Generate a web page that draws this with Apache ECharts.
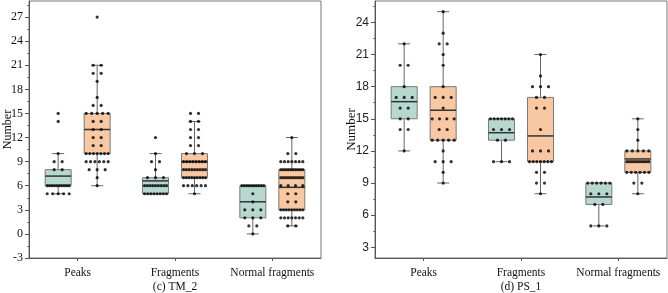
<!DOCTYPE html>
<html>
<head>
<meta charset="utf-8">
<script src="https://cdn.jsdelivr.net/npm/echarts@6/dist/echarts.min.js"></script>
<style>
  html, body { margin: 0; padding: 0; background: #fff; }
  #chart { width: 668px; height: 293px; }
</style>
</head>
<body>
<div id="chart"></div>
<script>
const categories = ['Peaks', 'Fragments', 'Normal fragments'];
const panelTitles = ['(c) TM_2', '(d) PS_1'];

// y tick labels of each panel and the axis extent
const tmTicks = [-3, 0, 3, 6, 9, 12, 15, 18, 21, 24, 27];
const tmRange = [-3, 29];
const psTicks = [3, 6, 9, 12, 15, 18, 21, 24];
const psRange = [2, 26];

// box stats per category: [min, q1, median, q3, max]
const tmBoxTeal = [[5, 6, 7.2, 8, 10], [5, 5, 6.6, 7, 10], [0, 2, 4, 6, 6]];
const tmBoxOrange = [[6, 10, 13, 15, 21], [5, 7, 9, 10, 14], [1, 3, 5.8, 8, 12]];
const psBoxTeal = [[12, 15, 16.6, 18, 22], [11, 13, 13.7, 15, 15], [5, 7, 7.7, 9, 9]];
const psBoxOrange = [[9, 13, 15.8, 18, 25], [8, 11, 13.4, 17, 21], [8, 10, 11.25, 12, 15]];

// raw points per category as [value, count]
const tmPointsTeal = [
  [[15, 1], [14, 1], [10, 1], [9, 2], [8, 2], [6, 10], [5, 5]],
  [[12, 1], [10, 1], [9, 2], [8, 1], [7, 3], [6, 9], [5, 8]],
  [[6, 10], [5, 1], [4, 1], [3, 3], [2, 3], [1, 2], [0, 1]]
];
const tmPointsOrange = [
  [[27, 1], [21, 2], [20, 2], [19, 1], [17, 1], [16, 2], [15, 5], [14, 2], [13, 2], [12, 2], [11, 2], [10, 7], [9, 6], [8, 3], [7, 1], [6, 1]],
  [[15, 2], [14, 2], [13, 2], [12, 2], [11, 2], [10, 3], [9, 8], [8, 9], [7, 9], [6, 6], [5, 1]],
  [[12, 1], [10, 2], [9, 7], [8, 10], [7, 10], [6, 4], [5, 2], [4, 2], [3, 9], [2, 7], [1, 2]]
];
const psPointsTeal = [
  [[22, 1], [20, 2], [18, 1], [17, 3], [16, 2], [15, 2], [14, 2], [12, 1]],
  [[15, 7], [14, 3], [13, 2], [11, 3]],
  [[9, 6], [8, 3], [7, 2], [5, 3]]
];
const psPointsOrange = [
  [[25, 1], [23, 1], [22, 2], [21, 1], [20, 1], [18, 1], [17, 3], [16, 1], [15, 4], [14, 2], [13, 5], [12, 1], [11, 3], [10, 1], [9, 1]],
  [[21, 1], [19, 1], [18, 3], [17, 2], [16, 2], [14, 1], [12, 3], [11, 7], [10, 2], [9, 2], [8, 1]],
  [[15, 1], [14, 1], [13, 1], [12, 5], [11, 10], [10, 6], [9, 2], [8, 1]]
];

const TEAL = '#b6d8cf';
const ORANGE = '#f7c8a2';
const GRID_W = 292;
const UNIT = 3 / GRID_W;      // value-axis units per pixel on the hidden x axis
const OFFSET = 19.5 * UNIT;   // box centre offset from category centre
const HALF = 13;              // half box width, px
const CAP = 6;                // half whisker cap width, px

function boxData(stats, side) {
  return stats.map((s, i) => [i + 0.5 + side * OFFSET].concat(s));
}

function pointData(points, side) {
  const out = [];
  points.forEach((rows, i) => {
    const cx = i + 0.5 + side * OFFSET;
    rows.forEach(([v, n]) => {
      const span = Math.min(22, (n - 1) * 8);
      for (let k = 0; k < n; k++) {
        const dx = n === 1 ? 0 : -span / 2 + span * k / (n - 1);
        out.push([cx + dx * UNIT, v]);
      }
    });
  });
  return out;
}

function boxRenderer(fill) {
  return function (params, api) {
    const x = api.value(0);
    const lo = api.coord([x, api.value(1)]);
    const q1 = api.coord([x, api.value(2)]);
    const md = api.coord([x, api.value(3)]);
    const q3 = api.coord([x, api.value(4)]);
    const hi = api.coord([x, api.value(5)]);
    const cx = lo[0];
    const wStyle = { stroke: '#666', lineWidth: 1 };
    const children = [
      { type: 'line', shape: { x1: cx, y1: q1[1], x2: cx, y2: lo[1] }, style: wStyle },
      { type: 'line', shape: { x1: cx - CAP, y1: lo[1], x2: cx + CAP, y2: lo[1] }, style: wStyle },
      { type: 'line', shape: { x1: cx, y1: q3[1], x2: cx, y2: hi[1] }, style: wStyle },
      { type: 'line', shape: { x1: cx - CAP, y1: hi[1], x2: cx + CAP, y2: hi[1] }, style: wStyle },
      { type: 'rect', shape: { x: cx - HALF, y: q3[1], width: HALF * 2, height: q1[1] - q3[1] },
        style: { fill: fill, stroke: '#7a7a7a', lineWidth: 1 } },
      { type: 'line', shape: { x1: cx - HALF, y1: md[1], x2: cx + HALF, y2: md[1] },
        style: { stroke: '#333', lineWidth: 1.5 } }
    ];
    return { type: 'group', children: children };
  };
}

const serif = 'Liberation Serif';
const sans = 'Liberation Sans';

function catAxis(gridIndex, title) {
  return {
    type: 'category', gridIndex: gridIndex, data: categories, boundaryGap: true,
    axisLine: { show: true, onZero: false, lineStyle: { color: '#555', width: 1 } },
    axisTick: { show: true, alignWithLabel: true, length: 3, lineStyle: { color: '#555' } },
    axisLabel: { fontFamily: serif, fontSize: 11.5, color: '#111', margin: 9, interval: 0, hideOverlap: false },
    splitLine: { show: false },
    name: title, nameLocation: 'middle', nameGap: 23, nameMoveOverlap: false,
    nameTextStyle: { fontFamily: serif, fontSize: 11.5, color: '#111' }
  };
}

function hiddenAxis(gridIndex) {
  return { type: 'value', gridIndex: gridIndex, min: 0, max: 3, show: false, axisLine: { onZero: false } };
}

const chart = echarts.init(document.getElementById('chart'), null, { renderer: 'canvas' });

const gridBase = { top: 1, width: GRID_W, height: 257, show: true, borderColor: '#777', borderWidth: 1,
  backgroundColor: '#fff', containLabel: false, outerBoundsMode: 'none' };

const option = {
  animation: false,
  backgroundColor: '#fff',
  grid: [
    Object.assign({ left: 29 }, gridBase),
    Object.assign({ left: 375 }, gridBase)
  ],
  xAxis: [catAxis(0, panelTitles[0]), hiddenAxis(0), catAxis(1, panelTitles[1]), hiddenAxis(1)],
  yAxis: [
    {
      type: 'value', gridIndex: 0, min: tmRange[0], max: tmRange[1], interval: tmTicks[1] - tmTicks[0],
      axisLine: { show: true, onZero: false, lineStyle: { color: '#555' } },
      axisTick: { show: true, length: 4, customValues: tmTicks, lineStyle: { color: '#555' } },
      minorTick: { show: true, splitNumber: 2, length: 2, lineStyle: { color: '#777' } },
      axisLabel: { fontFamily: serif, fontSize: 12, color: '#111', margin: 6, customValues: tmTicks },
      splitLine: { show: false },
      name: 'Number', nameLocation: 'middle', nameGap: 15, nameMoveOverlap: false,
      nameTextStyle: { fontFamily: serif, fontSize: 12, color: '#111' }
    },
    {
      type: 'value', gridIndex: 1, min: psRange[0], max: psRange[1], splitNumber: 8,
      axisLine: { show: true, onZero: false, lineStyle: { color: '#555' } },
      axisTick: { show: true, length: 4, customValues: psTicks, lineStyle: { color: '#555' } },
      minorTick: { show: true, splitNumber: 2, length: 2, lineStyle: { color: '#777' } },
      axisLabel: { fontFamily: sans, fontSize: 12, color: '#222', margin: 6, customValues: psTicks },
      splitLine: { show: false },
      name: 'Number', nameLocation: 'middle', nameGap: 17, nameMoveOverlap: false,
      nameTextStyle: { fontFamily: serif, fontSize: 13, color: '#111' }
    }
  ],
  series: [
    { type: 'custom', xAxisIndex: 1, yAxisIndex: 0, renderItem: boxRenderer(TEAL), data: boxData(tmBoxTeal, -1), z: 2 },
    { type: 'custom', xAxisIndex: 1, yAxisIndex: 0, renderItem: boxRenderer(ORANGE), data: boxData(tmBoxOrange, 1), z: 2 },
    { type: 'scatter', xAxisIndex: 1, yAxisIndex: 0, symbolSize: 3.2, itemStyle: { color: '#000' },
      data: pointData(tmPointsTeal, -1).concat(pointData(tmPointsOrange, 1)), z: 3 },
    { type: 'custom', xAxisIndex: 3, yAxisIndex: 1, renderItem: boxRenderer(TEAL), data: boxData(psBoxTeal, -1), z: 2 },
    { type: 'custom', xAxisIndex: 3, yAxisIndex: 1, renderItem: boxRenderer(ORANGE), data: boxData(psBoxOrange, 1), z: 2 },
    { type: 'scatter', xAxisIndex: 3, yAxisIndex: 1, symbolSize: 3.2, itemStyle: { color: '#000' },
      data: pointData(psPointsTeal, -1).concat(pointData(psPointsOrange, 1)), z: 3 }
  ]
};

chart.setOption(option);
window.addEventListener('resize', chart.resize);
</script>
</body>
</html>
